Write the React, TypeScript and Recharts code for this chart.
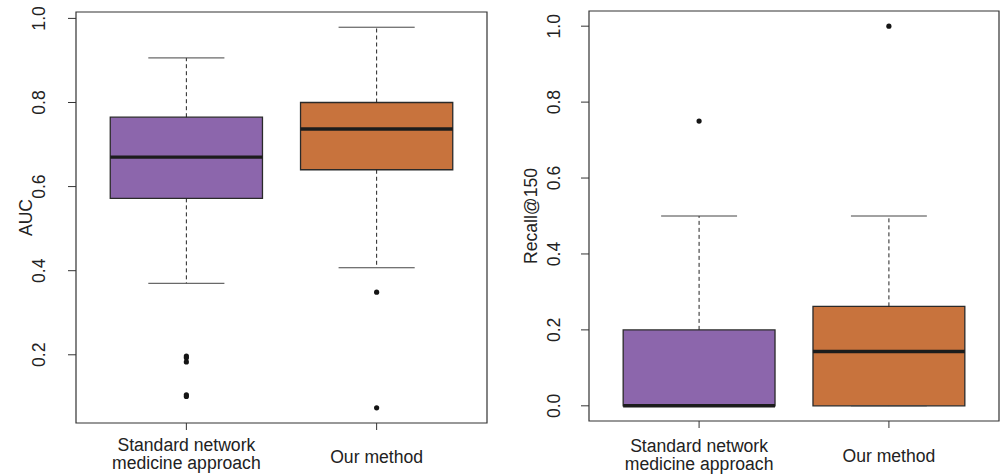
import React from 'react';
import { ComposedChart, XAxis, YAxis, ReferenceArea, ReferenceLine, Scatter } from 'recharts';

// ---------- data ----------
const categories = ['Standard network\nmedicine approach', 'Our method'];
const positions = [1, 2];
const boxColors = ['#8C66AC', '#C8733D'];

// AUC panel
const aucLower = [0.370, 0.407];
const aucQ1 = [0.572, 0.640];
const aucMedian = [0.670, 0.737];
const aucQ3 = [0.765, 0.800];
const aucUpper = [0.906, 0.979];
const aucOutliers = [[0.197, 0.193, 0.183, 0.105, 0.101], [0.349, 0.074]];
const aucTicks = [0.2, 0.4, 0.6, 0.8, 1.0];

// Recall@150 panel
const recLower = [0, 0];
const recQ1 = [0, 0];
const recMedian = [0, 0.143];
const recQ3 = [0.2, 0.262];
const recUpper = [0.5, 0.5];
const recOutliers = [[0.75], [1.0]];
const recTicks = [0, 0.2, 0.4, 0.6, 0.8, 1.0];

const FONT = "'Liberation Sans', Arial, Helvetica, sans-serif";
const X_DOMAIN: [number, number] = [0.42, 2.58];
const FS = 17.6;

type Stats = {
  lower: number[];
  q1: number[];
  median: number[];
  q3: number[];
  upper: number[];
  outliers: number[][];
};

function YTick(props: any) {
  const { x, y, payload } = props;
  return (
    <text
      x={x}
      y={y}
      transform={`rotate(-90 ${x} ${y})`}
      textAnchor="middle"
      fontSize={FS}
      fontFamily={FONT}
      fill="#222"
    >
      {Number(payload.value).toFixed(1)}
    </text>
  );
}

function makeXTick(two1: number, two2: number, one: number) {
  return function XTick(props: any) {
    const { x, y, payload } = props;
    const idx = positions.indexOf(payload.value);
    const label = idx >= 0 ? categories[idx] : '';
    const lines = label.split('\n');
    if (lines.length === 1) {
      return (
        <text x={x} y={y + one} textAnchor="middle" fontSize={FS} fontFamily={FONT} fill="#222">
          {lines[0]}
        </text>
      );
    }
    return (
      <text textAnchor="middle" fontSize={FS} fontFamily={FONT} fill="#222">
        <tspan x={x} y={y + two1}>{lines[0]}</tspan>
        <tspan x={x} y={y + two2}>{lines[1]}</tspan>
      </text>
    );
  };
}

type PanelProps = {
  stats: Stats;
  yTicks: number[];
  yLabel: string;
  width: number;
  height: number;
  left: number;
  top: number;
  right: number;
  yAxisWidth: number;
  xAxisHeight: number;
  yTickMargin: number;
  titleX: number;
  xTickOffsets: [number, number, number];
};

function BoxPanel(p: PanelProps) {
  const { stats } = p;
  const all = [
    ...stats.lower,
    ...stats.upper,
    ...stats.outliers.flat(),
  ];
  const lo = Math.min(...all);
  const hi = Math.max(...all);
  const ext = (hi - lo) * 0.04;
  const yDomain: [number, number] = [lo - ext, hi + ext];
  const outlierData = stats.outliers.flatMap((arr, i) =>
    arr.map((v) => ({ x: positions[i], y: v }))
  );
  const XTick = makeXTick(...p.xTickOffsets);

  return (
    <ComposedChart
      width={p.width}
      height={p.height}
      margin={{ top: p.top, right: p.right, bottom: 0, left: 0 }}
      style={{ position: 'absolute', left: p.left, top: 0 }}
    >
      <XAxis
        type="number"
        dataKey="x"
        domain={X_DOMAIN}
        allowDataOverflow
        ticks={positions}
        interval={0}
        height={p.xAxisHeight}
        axisLine={false}
        tickLine={{ stroke: '#333' }}
        tickSize={7}
        tickMargin={0}
        tick={<XTick />}
      />
      <YAxis
        type="number"
        dataKey="y"
        domain={yDomain}
        allowDataOverflow
        ticks={p.yTicks}
        interval={0}
        width={p.yAxisWidth}
        axisLine={false}
        tickLine={{ stroke: '#333' }}
        tickSize={8}
        tickMargin={p.yTickMargin}
        tick={<YTick />}
        label={{
          content: (lp: any) => {
            const vb = lp.viewBox || {};
            const cx = p.titleX;
            const cy = (vb.y ?? 0) + (vb.height ?? 0) / 2;
            return (
              <text
                x={cx}
                y={cy}
                transform={`rotate(-90 ${cx} ${cy})`}
                textAnchor="middle"
                fontSize={FS}
                fontFamily={FONT}
                fill="#222"
              >
                {p.yLabel}
              </text>
            );
          },
        }}
      />
      {/* whiskers */}
      {positions.map((pos, i) => (
        <ReferenceLine
          key={`wu${i}`}
          segment={[{ x: pos, y: stats.q3[i] }, { x: pos, y: stats.upper[i] }]}
          stroke="#222"
          strokeWidth={1}
          strokeDasharray="4 3"
        />
      ))}
      {positions.map((pos, i) => (
        <ReferenceLine
          key={`wl${i}`}
          segment={[{ x: pos, y: stats.q1[i] }, { x: pos, y: stats.lower[i] }]}
          stroke="#222"
          strokeWidth={1}
          strokeDasharray="4 3"
        />
      ))}
      {/* boxes */}
      {positions.map((pos, i) => (
        <ReferenceArea
          key={`b${i}`}
          x1={pos - 0.4}
          x2={pos + 0.4}
          y1={stats.q1[i]}
          y2={stats.q3[i]}
          fill={boxColors[i]}
          fillOpacity={1}
          stroke="#2a2a2a"
          strokeWidth={1.3}
        />
      ))}
      {/* caps */}
      {positions.map((pos, i) => (
        <ReferenceLine
          key={`cu${i}`}
          segment={[{ x: pos - 0.2, y: stats.upper[i] }, { x: pos + 0.2, y: stats.upper[i] }]}
          stroke="#444"
          strokeWidth={1}
        />
      ))}
      {positions.map((pos, i) => (
        <ReferenceLine
          key={`cl${i}`}
          segment={[{ x: pos - 0.2, y: stats.lower[i] }, { x: pos + 0.2, y: stats.lower[i] }]}
          stroke="#444"
          strokeWidth={1}
        />
      ))}
      {/* medians */}
      {positions.map((pos, i) => (
        <ReferenceLine
          key={`m${i}`}
          segment={[{ x: pos - 0.4, y: stats.median[i] }, { x: pos + 0.4, y: stats.median[i] }]}
          stroke="#1c1c1c"
          strokeWidth={3.4}
        />
      ))}
      {/* frame */}
      <ReferenceArea
        x1={X_DOMAIN[0]}
        x2={X_DOMAIN[1]}
        y1={yDomain[0]}
        y2={yDomain[1]}
        fill="none"
        fillOpacity={0}
        stroke="#333"
        strokeWidth={1.2}
      />
      <Scatter
        data={outlierData}
        dataKey="y"
        isAnimationActive={false}
        shape={(sp: any) => <circle cx={sp.cx} cy={sp.cy} r={2.6} fill="#151515" />}
      />
    </ComposedChart>
  );
}

export default function App() {
  const aucStats: Stats = {
    lower: aucLower,
    q1: aucQ1,
    median: aucMedian,
    q3: aucQ3,
    upper: aucUpper,
    outliers: aucOutliers,
  };
  const recStats: Stats = {
    lower: recLower,
    q1: recQ1,
    median: recMedian,
    q3: recQ3,
    upper: recUpper,
    outliers: recOutliers,
  };
  return (
    <div
      style={{
        position: 'absolute',
        left: 0,
        top: 0,
        width: 1005,
        height: 475,
        background: '#fff',
        overflow: 'hidden',
      }}
    >
      <BoxPanel
        stats={aucStats}
        yTicks={aucTicks}
        yLabel="AUC"
        width={500}
        height={475}
        left={0}
        top={12}
        right={13}
        yAxisWidth={76}
        xAxisHeight={52}
        yTickMargin={22.5}
        titleX={31.5}
        xTickOffsets={[20.5, 38.5, 32.5]}
      />
      <BoxPanel
        stats={recStats}
        yTicks={recTicks}
        yLabel="Recall@150"
        width={505}
        height={475}
        left={500}
        top={11}
        right={6}
        yAxisWidth={89}
        xAxisHeight={54}
        yTickMargin={21}
        titleX={36.7}
        xTickOffsets={[23.5, 41.5, 34]}
      />
    </div>
  );
}
